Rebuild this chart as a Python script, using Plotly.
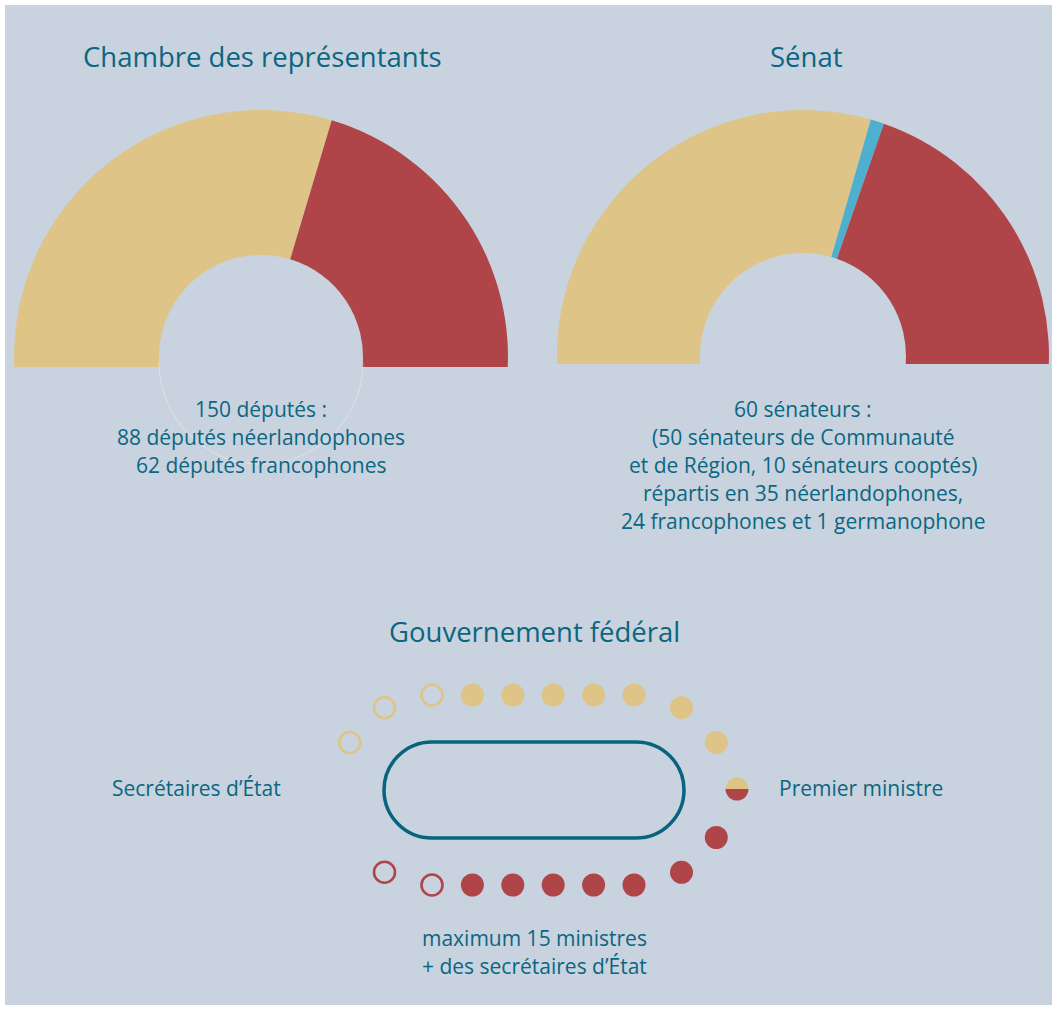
import plotly.graph_objects as go
import math

# ---------------- data ----------------
chambre_labels = ["Néerlandophones", "Francophones"]
chambre_values = [88, 62]

senat_labels = ["Néerlandophones", "Germanophone", "Francophones"]
senat_values = [35, 1, 24]

# government seats
gov_nl_ministres = 7
gov_nl_secretaires = 3
gov_fr_ministres = 7
gov_fr_secretaires = 2
gov_pm = [1, 1]  # half NL / half FR

titles = ["Chambre des représentants", "Sénat", "Gouvernement fédéral"]
chambre_text = ["150 députés :", "88 députés néerlandophones", "62 députés francophones"]
senat_text = ["60 sénateurs :", "(50 sénateurs de Communauté",
              "et de Région, 10 sénateurs cooptés)",
              "répartis en 35 néerlandophones,",
              "24 francophones et 1 germanophone"]
gov_left = "Secrétaires d’État"
gov_right = "Premier ministre"
gov_bottom = ["maximum 15 ministres", "+ des secrétaires d’État"]

# ---------------- style ----------------
W, H = 1057, 1010
BG = "#C8D3DF"
YEL = "#DEC487"
RED = "#AF4549"
BLUE = "#4EAFCF"
TXT = "#0B6681"
FONT = "Open Sans"
TITLE_SIZE = 27.5
BODY_SIZE = 21
EXTRA = 6.0  # degrees drawn below the horizontal (then masked)

fig = go.Figure()


def half_donut(values, colors, cx, cy, r, hole):
    tot = sum(values)
    span = 180 + 2 * EXTRA
    hidden = tot * 360 / span - tot
    fig.add_trace(go.Pie(
        values=list(values) + [hidden],
        marker=dict(colors=list(colors) + ["rgba(0,0,0,0)"], line=dict(width=0)),
        sort=False, direction="clockwise", rotation=270 - EXTRA,
        hole=hole, textinfo="none", hoverinfo="skip", showlegend=False,
        domain=dict(x=[(cx - r) / W, (cx + r) / W],
                    y=[1 - (cy + r) / H, 1 - (cy - r) / H]),
    ))


half_donut(chambre_values, [YEL, RED], 261, 357, 247, 102 / 247)
half_donut(senat_values, [YEL, BLUE, RED], 803, 356, 246, 103 / 246)

# Prime minister half/half seat
pm_cx, pm_cy, pm_r = 737, 789, 11.5
fig.add_trace(go.Pie(
    values=gov_pm, marker=dict(colors=[YEL, RED], line=dict(width=0)),
    sort=False, direction="clockwise", rotation=270,
    textinfo="none", hoverinfo="skip", showlegend=False,
    domain=dict(x=[(pm_cx - pm_r) / W, (pm_cx + pm_r) / W],
                y=[1 - (pm_cy + pm_r) / H, 1 - (pm_cy - pm_r) / H]),
))

# ---------------- seats around the table ----------------
ARC_L, ARC_R, CY, R = 432, 634, 790, 95
STEP = (ARC_R - ARC_L) / 5


def slot(k, sign):
    # sign=-1 top (screen up), +1 bottom
    if k < 2:
        a = math.radians(30 * (k + 1))
        return ARC_R + R * math.cos(a), CY + sign * R * math.sin(a)
    if k < 8:
        return ARC_R - STEP * (k - 2), CY + sign * R
    a = math.radians(30 * (k - 8) + 120)
    return ARC_L + R * math.cos(a), CY + sign * R * math.sin(a)


def seats(n_filled, n_open, sign, color):
    fx, fy, ox, oy = [], [], [], []
    for k in range(n_filled):
        x, y = slot(k, sign); fx.append(x); fy.append(y)
    for k in range(n_filled, n_filled + n_open):
        x, y = slot(k, sign); ox.append(x); oy.append(y)
    fig.add_trace(go.Scatter(x=fx, y=fy, mode="markers", hoverinfo="skip", showlegend=False,
                             marker=dict(size=23, color=color, line=dict(width=0))))
    fig.add_trace(go.Scatter(x=ox, y=oy, mode="markers", hoverinfo="skip", showlegend=False,
                             marker=dict(size=21, symbol="circle-open", color=color,
                                         line=dict(width=2.6, color=color))))


seats(gov_nl_ministres, gov_nl_secretaires, -1, YEL)
seats(gov_fr_ministres, gov_fr_secretaires, +1, RED)

# ---------------- shapes ----------------
shapes = [
    dict(type="rect", xref="paper", yref="paper", x0=5 / W, x1=1 - 5 / W, y0=5 / H, y1=1 - 5 / H,
         fillcolor=BG, line=dict(width=0), layer="below"),
    # masks under the half donuts
    dict(type="rect", xref="x", yref="y", x0=5, x1=530, y0=367, y1=400,
         fillcolor=BG, line=dict(width=0), layer="above"),
    dict(type="rect", xref="x", yref="y", x0=540, x1=1052, y0=364, y1=400,
         fillcolor=BG, line=dict(width=0), layer="above"),
]
# faint lower outline of the chambre hole
hcx, hcy, hr = 261, 362, 102
hk = 0.5523 * hr
shapes.append(dict(
    type="path", xref="x", yref="y",
    path=(f"M {hcx - hr},{hcy} C {hcx - hr},{hcy + hk} {hcx - hk},{hcy + hr} {hcx},{hcy + hr} "
          f"C {hcx + hk},{hcy + hr} {hcx + hr},{hcy + hk} {hcx + hr},{hcy}"),
    line=dict(color="rgba(255,255,255,0.35)", width=1), layer="above"))

k = 0.5523 * 48
tl, tr, tt, tb, tc = 432, 636, 742, 838, 790
path = (f"M {tl},{tt} L {tr},{tt} C {tr + k},{tt} 684,{tc - k} 684,{tc} "
        f"C 684,{tc + k} {tr + k},{tb} {tr},{tb} L {tl},{tb} "
        f"C {tl - k},{tb} 384,{tc + k} 384,{tc} C 384,{tc - k} {tl - k},{tt} {tl},{tt} Z")
shapes.append(dict(type="path", xref="x", yref="y", path=path,
                   line=dict(color="#08637F", width=3.5), layer="above"))

# ---------------- texts ----------------
ann = []


def txt(t, x, y, size):
    ann.append(dict(text=t, x=x, y=y, xref="x", yref="y", showarrow=False,
                    xanchor="center", yanchor="middle",
                    font=dict(family=FONT, size=size, color=TXT)))


txt(titles[0], 262, 56, TITLE_SIZE)
txt(titles[1], 806, 56, TITLE_SIZE)
txt(titles[2], 534, 631, TITLE_SIZE)
for i, t in enumerate(chambre_text):
    txt(t, 261, 409 + 28 * i, BODY_SIZE)
for i, t in enumerate(senat_text):
    txt(t, 803, 409 + 28 * i, BODY_SIZE)
txt(gov_left, 196, 788, BODY_SIZE)
txt(gov_right, 861, 788, BODY_SIZE)
for i, t in enumerate(gov_bottom):
    txt(t, 534, 938 + 28 * i, BODY_SIZE)

fig.update_layout(
    width=W, height=H, margin=dict(l=0, r=0, t=0, b=0),
    paper_bgcolor="white", plot_bgcolor="rgba(0,0,0,0)",
    xaxis=dict(range=[0, W], visible=False, fixedrange=True),
    yaxis=dict(range=[H, 0], visible=False, fixedrange=True),
    shapes=shapes, annotations=ann, showlegend=False,
)

fig.write_html("out.html", config={"displayModeBar": False},
               post_script="document.body.style.margin='0px';document.body.style.padding='0px';")
